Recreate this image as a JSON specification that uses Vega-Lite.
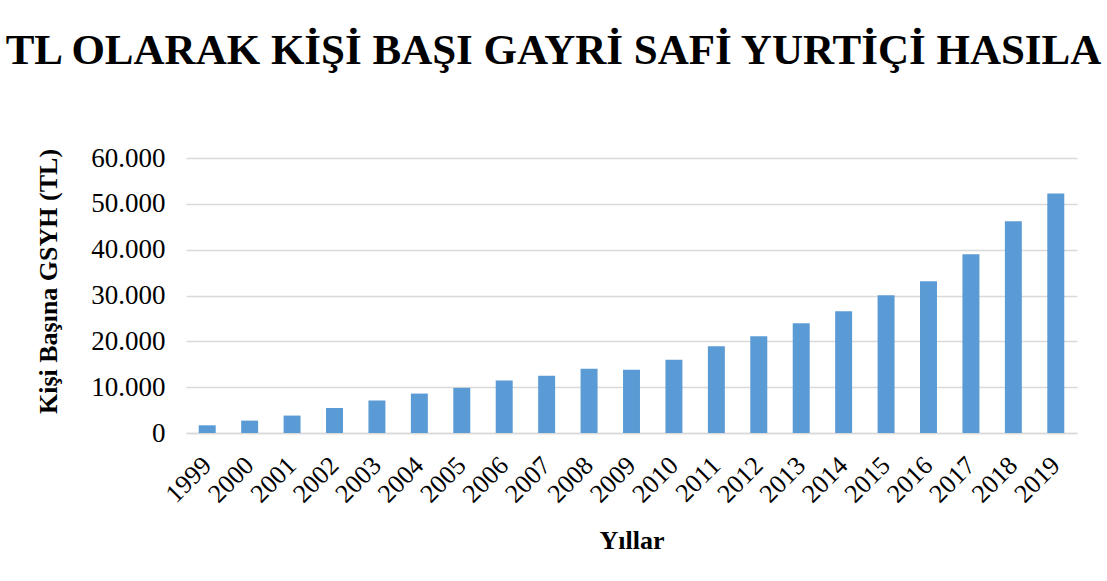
{
  "$schema": "https://vega.github.io/schema/vega-lite/v6.json",
  "autosize": {"type": "none"},
  "padding": {"left": 186, "top": 158, "right": 30, "bottom": 148},
  "width": 891,
  "height": 275,
  "background": "white",
  "title": {
    "text": "TL OLARAK KİŞİ BAŞI GAYRİ SAFİ YURTİÇİ HASILA",
    "font": "Liberation Serif",
    "fontSize": 43,
    "fontWeight": "bold",
    "color": "#000000",
    "anchor": "middle",
    "dx": -78,
    "baseline": "alphabetic",
    "offset": 37
  },
  "data": {
    "values": [
      {"yil": "1999", "gsyh": 1680},
      {"yil": "2000", "gsyh": 2700},
      {"yil": "2001", "gsyh": 3800},
      {"yil": "2002", "gsyh": 5460},
      {"yil": "2003", "gsyh": 7070},
      {"yil": "2004", "gsyh": 8600},
      {"yil": "2005", "gsyh": 9850},
      {"yil": "2006", "gsyh": 11460},
      {"yil": "2007", "gsyh": 12500},
      {"yil": "2008", "gsyh": 14030},
      {"yil": "2009", "gsyh": 13820},
      {"yil": "2010", "gsyh": 16000},
      {"yil": "2011", "gsyh": 18920},
      {"yil": "2012", "gsyh": 21100},
      {"yil": "2013", "gsyh": 23940},
      {"yil": "2014", "gsyh": 26550},
      {"yil": "2015", "gsyh": 30050},
      {"yil": "2016", "gsyh": 33100},
      {"yil": "2017", "gsyh": 38990},
      {"yil": "2018", "gsyh": 46190},
      {"yil": "2019", "gsyh": 52240}
    ]
  },
  "mark": {"type": "bar", "color": "#5B9BD5"},
  "encoding": {
    "x": {
      "field": "yil",
      "type": "ordinal",
      "scale": {"paddingInner": 0.6, "paddingOuter": 0.3},
      "axis": {
        "title": "Yıllar",
        "titleFont": "Liberation Serif",
        "titleFontSize": 26,
        "titleFontWeight": "bold",
        "titleColor": "#000000",
        "titlePadding": 21,
        "labelFont": "Liberation Serif",
        "labelFontSize": 26,
        "labelColor": "#000000",
        "labelAngle": -45,
        "labelAlign": "right",
        "labelBaseline": "middle",
        "labelPadding": 28,
        "labelOverlap": false,
        "ticks": false,
        "domainColor": "#D9D9D9",
        "domainWidth": 1.5
      }
    },
    "y": {
      "field": "gsyh",
      "type": "quantitative",
      "scale": {"domain": [0, 60000], "nice": false},
      "axis": {
        "title": "Kişi Başına GSYH (TL)",
        "titleFont": "Liberation Serif",
        "titleFontSize": 26,
        "titleFontWeight": "bold",
        "titleColor": "#000000",
        "titlePadding": 29,
        "titleY": 123,
        "values": [0, 10000, 20000, 30000, 40000, 50000, 60000],
        "labelExpr": "replace(format(datum.value, ','), ',', '.')",
        "labelFont": "Liberation Serif",
        "labelFontSize": 27,
        "labelColor": "#000000",
        "labelPadding": 21,
        "ticks": false,
        "domain": false,
        "grid": true,
        "gridColor": "#D9D9D9",
        "gridWidth": 1.5
      }
    }
  },
  "config": {
    "view": {"stroke": null}
  }
}
